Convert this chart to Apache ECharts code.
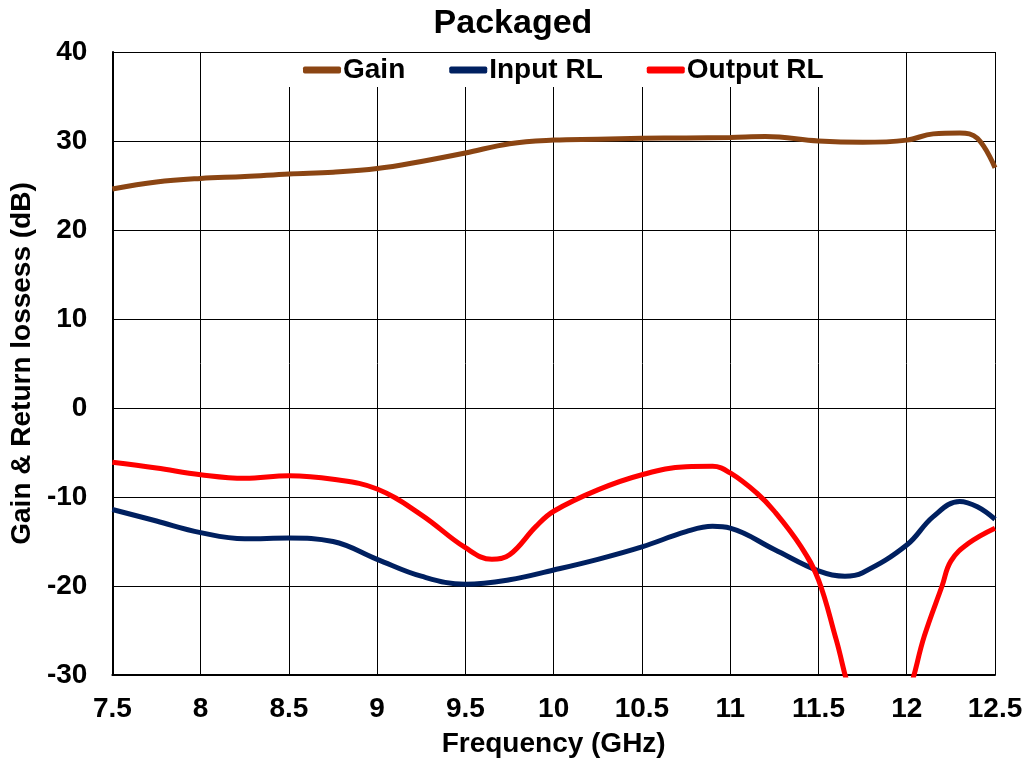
<!DOCTYPE html>
<html>
<head>
<meta charset="utf-8">
<script src="https://cdn.jsdelivr.net/npm/echarts@6/dist/echarts.min.js"></script>
<style>html,body{margin:0;padding:0;background:#fff;}#c{width:1026px;height:763px;}</style>
</head>
<body>
<div id="c"></div>
<script>
const xTicks = [7.5, 8, 8.5, 9, 9.5, 10, 10.5, 11, 11.5, 12, 12.5];
const yTicks = [-30, -20, -10, 0, 10, 20, 30, 40];

const gainFreq = [7.5, 7.75, 8, 8.25, 8.5, 8.75, 9, 9.25, 9.5, 9.75, 10, 10.25, 10.5, 10.75, 11, 11.2, 11.5, 11.75, 12, 12.15, 12.3, 12.4, 12.5];
const gainVals = [24.6, 25.4, 25.8, 26.0, 26.3, 26.5, 26.9, 27.7, 28.65, 29.7, 30.1, 30.2, 30.3, 30.35, 30.4, 30.5, 30.0, 29.85, 30.1, 30.8, 30.9, 30.3, 27.0];

const inFreq = [7.5, 7.75, 8, 8.25, 8.5, 8.75, 9, 9.25, 9.5, 9.75, 10, 10.25, 10.5, 10.75, 10.9, 11, 11.25, 11.5, 11.65, 11.75, 12, 12.15, 12.3, 12.4, 12.5];
const inVals = [-11.4, -12.7, -14.0, -14.7, -14.6, -15.0, -17.0, -18.9, -19.8, -19.3, -18.2, -17.0, -15.6, -13.9, -13.3, -13.5, -15.9, -18.3, -18.9, -18.5, -15.4, -12.2, -10.5, -11.1, -12.5];

const outFreq = [7.5, 7.75, 8, 8.25, 8.5, 8.75, 9, 9.25, 9.5, 9.65, 9.75, 9.9, 10, 10.25, 10.5, 10.75, 10.9, 11, 11.15, 11.25, 11.4, 11.5, 11.6, 11.7, 11.85, 12.0, 12.1, 12.2, 12.25, 12.35, 12.5];
const outVals = [-6.1, -6.75, -7.5, -7.9, -7.6, -8.0, -9.1, -12.0, -15.7, -17.0, -16.5, -13.3, -11.6, -9.2, -7.5, -6.6, -6.55, -7.3, -9.55, -11.6, -15.55, -19.3, -26.0, -33.0, -38.0, -32.5, -25.6, -20.0, -17.2, -15.2, -13.5];

function pairs(xs, ys) { return xs.map((x, i) => [x, ys[i]]); }

const chart = echarts.init(document.getElementById('c'));
const FONT = 'Liberation Sans, Arial, sans-serif';
chart.setOption({
  animation: false,
  title: {
    text: 'Packaged', left: 'center', top: 2,
    textStyle: { fontFamily: FONT, fontWeight: 'bold', fontSize: 34, color: '#000' }
  },
  legend: {
    left: 285, top: 53,
    backgroundColor: '#fff',
    padding: [3, 14, 3, 18],
    itemGap: 44,
    itemWidth: 38, itemHeight: 7,
    icon: 'roundRect',
    textStyle: { fontFamily: FONT, fontWeight: 'bold', fontSize: 28, color: '#000', padding: [0, 0, 0, -3] },
    data: ['Gain', 'Input RL', 'Output RL']
  },
  grid: { left: 111, right: 31, top: 52, bottom: 87, containLabel: false },
  xAxis: {
    type: 'value', min: 7.5, max: 12.5, interval: 0.5,
    name: 'Frequency (GHz)', nameLocation: 'middle', nameGap: 55,
    nameTextStyle: { fontFamily: FONT, fontWeight: 'bold', fontSize: 28, color: '#000' },
    axisLine: { show: true, onZero: false, lineStyle: { color: '#000', width: 2 } },
    axisTick: { show: false },
    axisLabel: { fontFamily: FONT, fontWeight: 'bold', fontSize: 28, color: '#000', margin: 20,
      formatter: v => String(xTicks.find(t => Math.abs(t - v) < 1e-6) ?? v) },
    splitLine: { show: true, lineStyle: { color: '#000', width: 1 } }
  },
  yAxis: {
    type: 'value', min: -30, max: 40, interval: 10,
    name: 'Gain & Return lossess (dB)', nameLocation: 'middle', nameGap: 71,
    nameTextStyle: { fontFamily: FONT, fontWeight: 'bold', fontSize: 28, color: '#000' },
    axisLine: { show: true, onZero: false, lineStyle: { color: '#000', width: 2 } },
    axisTick: { show: false },
    axisLabel: { fontFamily: FONT, fontWeight: 'bold', fontSize: 28, color: '#000', margin: 25,
      formatter: v => String(yTicks.find(t => Math.abs(t - v) < 1e-6) ?? v) },
    splitLine: { show: true, lineStyle: { color: '#000', width: 1 } }
  },
  series: [
    { name: 'Gain', type: 'line', data: pairs(gainFreq, gainVals), smooth: 0.4, showSymbol: false, symbol: 'none',
      lineStyle: { color: '#8B4513', width: 5 }, itemStyle: { color: '#8B4513' } },
    { name: 'Input RL', type: 'line', data: pairs(inFreq, inVals), smooth: 0.4, showSymbol: false, symbol: 'none',
      lineStyle: { color: '#002060', width: 5 }, itemStyle: { color: '#002060' } },
    { name: 'Output RL', type: 'line', data: pairs(outFreq, outVals), smooth: 0.4, showSymbol: false, symbol: 'none', clip: true,
      lineStyle: { color: '#FF0000', width: 5 }, itemStyle: { color: '#FF0000' } }
  ]
});
</script>
</body>
</html>
